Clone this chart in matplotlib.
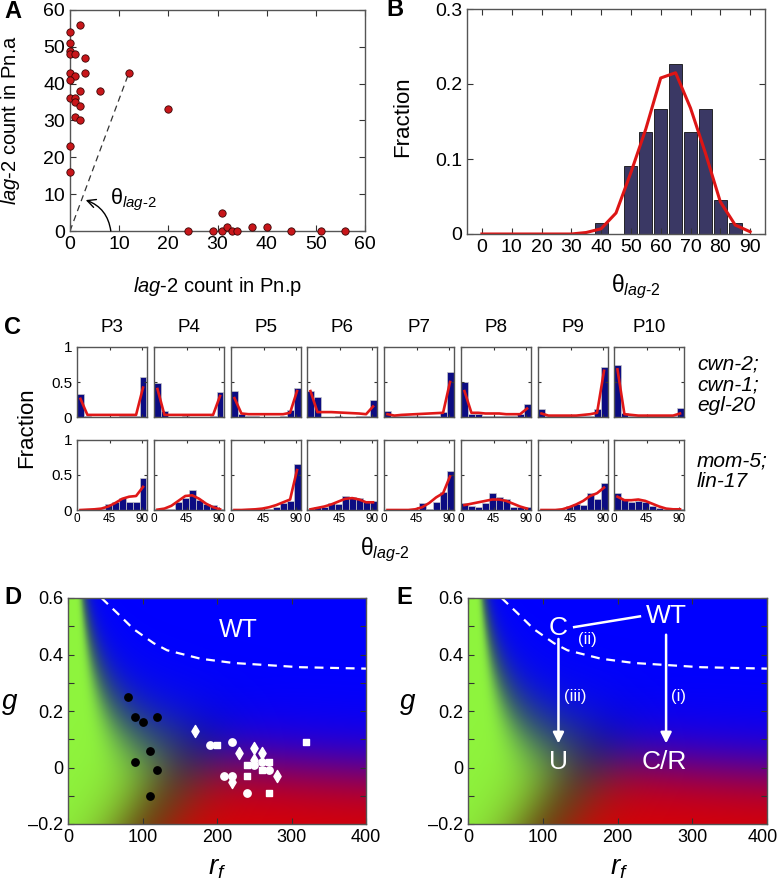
import numpy as np
import matplotlib.pyplot as plt

plt.rcParams['font.family'] = 'Liberation Sans'
plt.rcParams['mathtext.fontset'] = 'custom'
plt.rcParams['mathtext.rm'] = 'Liberation Sans'
plt.rcParams['mathtext.it'] = 'Liberation Sans:italic'
plt.rcParams['mathtext.bf'] = 'Liberation Sans:bold'

# ---- panel A: lag-2 counts
pnp = [2, 0, 0, 0, 0, 1, 3, 0, 3, 1, 0, 12, 2, 6, 0, 1, 1, 2, 1, 2, 20, 0, 0,
       24, 29, 31, 31, 32, 33, 34, 37, 40, 45, 51, 56]
pna = [56, 54, 51, 49, 48, 48, 47, 43, 43, 42, 41, 43, 38, 38, 36, 36, 35, 34, 31, 30, 33, 23, 16,
       0, 0, 5, 0, 1, 0, 0, 1, 1, 0, 0, 0]

# ---- panel B: theta histogram + fit
b_centers = [40, 50, 55, 60, 65, 70, 75, 80, 85]
b_frac = [0.015, 0.091, 0.136, 0.167, 0.227, 0.136, 0.167, 0.045, 0.015]
fit_theta = [0, 5, 10, 15, 20, 25, 30, 35, 40, 45, 50, 55, 60, 65, 70, 75, 80, 85, 90]
fit_frac = [0, 0, 0, 0, 0, 0, 0, 0.002, 0.007, 0.028, 0.082, 0.14, 0.208, 0.215, 0.168, 0.108, 0.043, 0.012, 0.003]

# ---- panel C: per-cell histograms
cells = ['P3', 'P4', 'P5', 'P6', 'P7', 'P8', 'P9', 'P10']
cwn_bars = [
    [0.33, 0.01, 0.0, 0.0, 0.0, 0.0, 0.01, 0.01, 0.01, 0.57],
    [0.48, 0.09, 0.0, 0.0, 0.01, 0.0, 0.0, 0.0, 0.01, 0.36],
    [0.37, 0.05, 0.01, 0.01, 0.0, 0.0, 0.0, 0.01, 0.10, 0.41],
    [0.37, 0.29, 0.0, 0.0, 0.01, 0.0, 0.0, 0.01, 0.02, 0.25],
    [0.08, 0.02, 0.02, 0.01, 0.02, 0.02, 0.01, 0.01, 0.07, 0.65],
    [0.50, 0.05, 0.04, 0.02, 0.02, 0.02, 0.01, 0.01, 0.05, 0.19],
    [0.12, 0.01, 0.01, 0.01, 0.01, 0.01, 0.01, 0.01, 0.11, 0.71],
    [0.75, 0.06, 0.01, 0.01, 0.01, 0.01, 0.01, 0.01, 0.01, 0.13],
]
cwn_fit = [
    [0.26, 0.03, 0.03, 0.03, 0.03, 0.03, 0.03, 0.03, 0.03, 0.42],
    [0.40, 0.03, 0.03, 0.03, 0.03, 0.03, 0.03, 0.03, 0.03, 0.30],
    [0.27, 0.05, 0.04, 0.04, 0.04, 0.04, 0.04, 0.04, 0.06, 0.37],
    [0.37, 0.07, 0.07, 0.07, 0.065, 0.06, 0.055, 0.05, 0.04, 0.15],
    [0.04, 0.02, 0.03, 0.035, 0.04, 0.045, 0.05, 0.055, 0.06, 0.50],
    [0.37, 0.06, 0.06, 0.05, 0.05, 0.05, 0.04, 0.04, 0.04, 0.12],
    [0.05, 0.02, 0.02, 0.02, 0.02, 0.02, 0.03, 0.04, 0.06, 0.66],
    [0.68, 0.04, 0.03, 0.02, 0.02, 0.02, 0.02, 0.02, 0.02, 0.05],
]
mom_bars = [
    [0.0, 0.0, 0.01, 0.01, 0.09, 0.12, 0.17, 0.12, 0.12, 0.46],
    [0.02, 0.02, 0.02, 0.12, 0.17, 0.29, 0.14, 0.08, 0.07, 0.01],
    [0.02, 0.0, 0.0, 0.0, 0.01, 0.02, 0.05, 0.10, 0.13, 0.65],
    [0.01, 0.05, 0.05, 0.10, 0.09, 0.20, 0.19, 0.17, 0.12, 0.13],
    [0.0, 0.0, 0.0, 0.0, 0.0, 0.10, 0.02, 0.12, 0.26, 0.56],
    [0.10, 0.06, 0.04, 0.10, 0.24, 0.18, 0.16, 0.05, 0.05, 0.04],
    [0.0, 0.0, 0.0, 0.0, 0.06, 0.09, 0.07, 0.24, 0.16, 0.38],
    [0.25, 0.16, 0.12, 0.13, 0.11, 0.06, 0.03, 0.02, 0.01, 0.01],
]
mom_fit = [
    [0.0, 0.005, 0.01, 0.02, 0.05, 0.10, 0.16, 0.19, 0.20, 0.33],
    [0.005, 0.02, 0.06, 0.13, 0.20, 0.21, 0.16, 0.09, 0.04, 0.01],
    [0.0, 0.0, 0.005, 0.01, 0.02, 0.04, 0.07, 0.11, 0.15, 0.57],
    [0.01, 0.03, 0.05, 0.08, 0.12, 0.16, 0.17, 0.15, 0.11, 0.11],
    [0.0, 0.0, 0.0, 0.0, 0.01, 0.04, 0.10, 0.18, 0.24, 0.48],
    [0.07, 0.09, 0.11, 0.13, 0.15, 0.15, 0.13, 0.09, 0.05, 0.02],
    [0.0, 0.0, 0.0, 0.01, 0.04, 0.08, 0.13, 0.20, 0.24, 0.32],
    [0.19, 0.14, 0.14, 0.15, 0.13, 0.09, 0.05, 0.02, 0.01, 0.01],
]
bin_w = 9.6
bin_c = [4.8 + bin_w * i for i in range(10)]

# ---- panels D/E: phase diagram
wt_rf = [45, 66, 88, 115, 133, 178, 222, 312, 400]
wt_g = [0.6, 0.547, 0.49, 0.44, 0.415, 0.385, 0.37, 0.355, 0.35]
black_rf = [80, 90, 100, 120, 110, 90, 120, 110]
black_g = [0.25, 0.18, 0.16, 0.18, 0.06, 0.02, -0.01, -0.10]
wcirc_rf = [190, 220, 210, 220, 250, 260, 270, 240]
wcirc_g = [0.08, 0.09, -0.03, -0.03, 0.01, 0.02, -0.01, -0.09]
wsq_rf = [200, 240, 240, 260, 270, 270, 320]
wsq_g = [0.08, 0.01, -0.03, -0.01, 0.02, -0.09, 0.09]
wdia_rf = [170, 230, 250, 260, 250, 280, 220]
wdia_g = [0.13, 0.05, 0.07, 0.05, 0.025, -0.03, -0.05]

W, H = 781, 893
fig = plt.figure(figsize=(W / 100, H / 100), dpi=100)


def add_ax(l, t, r, b):
    return fig.add_axes([l / W, 1 - b / H, (r - l) / W, (b - t) / H])


def ftext(x, y, s, **kw):
    return fig.text(x / W, 1 - y / H, s, **kw)


def box(ax, length=4, size=14):
    ax.tick_params(direction='in', top=True, right=True, length=length, width=0.8,
                   color='#333333', labelsize=size)
    for s in ax.spines.values():
        s.set_color('#555555')
        s.set_linewidth(1.0)


theta_lab = r'θ$_{\mathit{lag}\text{-}\mathit{2}}$'

# A
axA = add_ax(70, 10, 365, 231)
axA.plot([0, 12], [0, 43], ls=(0, (5, 3.5)), color='#333333', lw=0.9)
axA.scatter(pnp, pna, s=28, color='#c8161a', edgecolor='#3a0505', linewidth=0.6, zorder=3, clip_on=False)
axA.annotate('', xy=(3.2, 8.4), xytext=(8.3, 0),
             arrowprops=dict(arrowstyle='->', color='black', lw=1.0, connectionstyle='arc3,rad=0.3',
                             shrinkA=0, shrinkB=0, mutation_scale=15))
axA.text(8.2, 8.5, theta_lab, fontsize=15.5, va='center', ha='left')
axA.set_xlim(0, 60)
axA.set_ylim(0, 60)
axA.set_xticks(range(0, 61, 10))
axA.set_yticks(range(0, 61, 10))
box(axA)
ftext(218, 286, r'$\mathit{lag}$-2 count in Pn.p', fontsize=14.5, ha='center', va='center')
ftext(11, 120, r'$\mathit{lag}$-2 count in Pn.a', fontsize=14.5, ha='center', va='center', rotation=90)

# B
axB = add_ax(467, 9, 765, 234)
axB.bar(b_centers, b_frac, width=4.4, color='#3a3864', edgecolor='#111111', linewidth=0.6)
axB.plot(fit_theta, fit_frac, color='#dd1515', lw=2.2)
axB.set_xlim(-5, 95)
axB.set_ylim(0, 0.3)
axB.set_xticks(range(0, 91, 10))
axB.set_yticks([0, 0.1, 0.2, 0.3])
axB.set_yticklabels(['0', '0.1', '0.2', '0.3'])
box(axB)
ftext(403, 117, 'Fraction', fontsize=16, ha='center', va='center', rotation=90)
ftext(636, 287, theta_lab, fontsize=16.5, ha='center', va='center')

# C
col_left = [77, 154, 231, 307, 384, 461, 538, 614]
rows = [(347, 417, cwn_bars, cwn_fit), (440, 510, mom_bars, mom_fit)]
for r, (top, bot, bars, fits) in enumerate(rows):
    for c, left in enumerate(col_left):
        ax = add_ax(left, top, left + 69.5, bot)
        ax.bar(bin_c, bars[c], width=bin_w, color='#0c0c82', edgecolor='#c8c8c8', linewidth=0.5)
        ax.plot(bin_c, fits[c], color='#e01818', lw=1.9)
        ax.set_xlim(0, 96)
        ax.set_ylim(0, 1)
        ax.set_xticks([0, 45, 90])
        ax.set_yticks([0, 0.5, 1])
        box(ax, length=2.5, size=11)
        ax.tick_params(axis='x', labelsize=8.5, pad=2)
        if c == 0:
            ax.set_yticklabels(['0', '0.5', '1'])
        else:
            ax.set_yticklabels([])
        if r == 0:
            ax.set_xticklabels([])
            ftext(left + 35, 327, cells[c], fontsize=13.5, ha='center', va='center')
ftext(697, 385, 'cwn-2;\ncwn-1;\negl-20', fontsize=15, style='italic', ha='left', va='center', linespacing=1.1)
ftext(697, 471, 'mom-5;\nlin-17', fontsize=15, style='italic', ha='left', va='center', linespacing=1.1)
ftext(27, 428, 'Fraction', fontsize=16, ha='center', va='center', rotation=90)
ftext(385, 550, theta_lab, fontsize=16.5, ha='center', va='center')

# D/E colour field (blue = C, red = R, green = U)
rf = np.linspace(0, 400, 401)
g = np.linspace(-0.2, 0.6, 241)
RF, G = np.meshgrid(rf, g)
g_blue = 21.0 / (RF + 10) - 0.06
p_blue = 1 / (1 + np.exp(-(G - g_blue) / 0.07))
rf_red = 105 + 250 * (G + 0.2)
p_red = 1 / (1 + np.exp(-(RF - rf_red) / 28))
c_blue = np.array([0.0, 0.0, 1.0])
c_red = np.array([0.86, 0.0, 0.0])
c_green = np.array([0.56, 0.96, 0.24])
rest = p_red[..., None] * c_red + (1 - p_red[..., None]) * c_green
rest *= (1 - 0.35 * 4 * p_red * (1 - p_red))[..., None]
img = p_blue[..., None] * c_blue + (1 - p_blue[..., None]) * rest
img *= (1 - 0.25 * 4 * p_blue * (1 - p_blue) * (1 - p_red))[..., None]


def phase_axes(left, right):
    ax = add_ax(left, 598, right, 824)
    ax.imshow(img, extent=[0, 400, -0.2, 0.6], origin='lower', aspect='auto', interpolation='bilinear')
    ax.plot(wt_rf, wt_g, ls=(0, (4, 3)), color='white', lw=1.6)
    ax.set_xlim(0, 400)
    ax.set_ylim(-0.2, 0.6)
    ax.set_xticks([0, 100, 200, 300, 400])
    ax.set_yticks(np.arange(-0.2, 0.61, 0.1))
    ax.set_yticklabels(['\u20130.2', '', '0', '', '0.2', '', '0.4', '', '0.6'])
    box(ax, size=13)
    return ax


axD = phase_axes(68, 366)
axD.text(229, 0.485, 'WT', color='white', fontsize=18, ha='center', va='center')
axD.scatter(black_rf, black_g, s=28, color='black', zorder=3)
axD.scatter(wcirc_rf, wcirc_g, s=28, color='white', zorder=3)
axD.scatter(wsq_rf, wsq_g, s=24, marker='s', color='white', zorder=3)
axD.scatter(wdia_rf, wdia_g, s=38, marker='d', color='white', zorder=3)

axE = phase_axes(468, 767)
# last x label sits at the figure edge: draw it slightly left of centre
axE.set_xticklabels(['0', '100', '200', '300', ''])
axE.annotate('400', xy=(400, -0.2), xytext=(-3, -3.5), textcoords='offset points',
             ha='center', va='top', fontsize=13, annotation_clip=False)
axE.plot([230, 142], [0.535, 0.497], color='white', lw=1.8)
axE.text(121, 0.495, 'C', color='white', fontsize=19, ha='center', va='center')
axE.text(266, 0.535, 'WT', color='white', fontsize=19, ha='center', va='center')
axE.text(160, 0.452, '(ii)', color='white', fontsize=12, ha='center', va='center')
arrow = dict(arrowstyle='-|>', color='white', lw=1.8, mutation_scale=16, shrinkA=0, shrinkB=0)
axE.annotate('', xy=(121, 0.085), xytext=(121, 0.455), arrowprops=arrow)
axE.annotate('', xy=(265, 0.085), xytext=(265, 0.47), arrowprops=arrow)
axE.text(143, 0.25, '(iii)', color='white', fontsize=12, ha='center', va='center')
axE.text(281, 0.25, '(i)', color='white', fontsize=12, ha='center', va='center')
axE.text(121, 0.018, 'U', color='white', fontsize=19, ha='center', va='center')
axE.text(263, 0.018, 'C/R', color='white', fontsize=19, ha='center', va='center')

for x0 in (10, 408):
    ftext(x0, 704, r'$g$', fontsize=20, ha='center', va='center')
for x0 in (217, 619):
    ftext(x0, 868, r'$r_f$', fontsize=20, ha='center', va='center')

# panel letters
for lab, x0, y0 in [('A', 4, 12), ('B', 386, 10), ('C', 4, 328), ('D', 4, 597), ('E', 396, 597)]:
    ftext(x0, y0, lab, fontsize=17, fontweight='bold', ha='left', va='center')

plt.savefig('out.png', dpi=100)
